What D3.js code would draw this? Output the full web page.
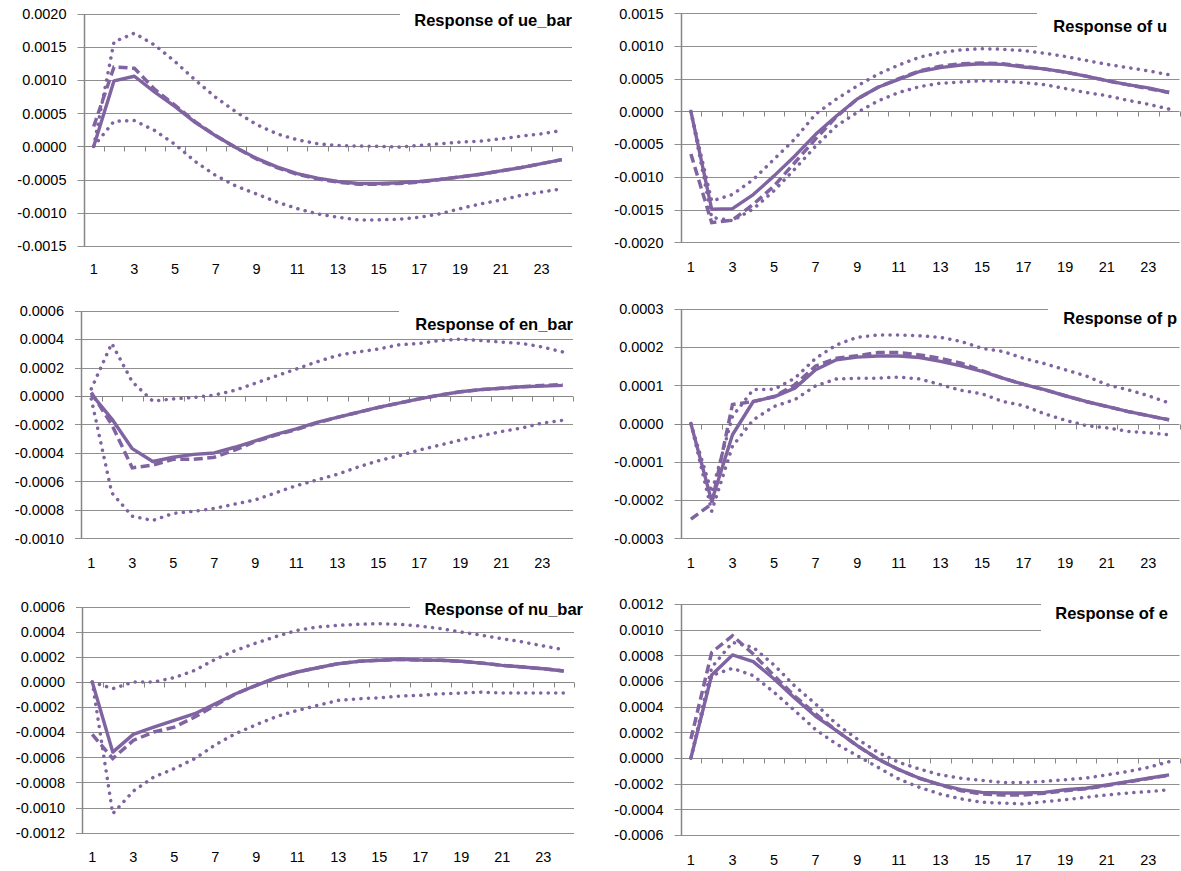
<!DOCTYPE html>
<html>
<head>
<meta charset="utf-8">
<script src="https://cdn.jsdelivr.net/npm/d3@7/dist/d3.min.js"></script>
<style>
  body { margin: 0; background: #fff; }
  text { font-family: "Liberation Sans", Arial, sans-serif; fill: #000; }
</style>
</head>
<body>
<svg id="chart" width="1181" height="871"></svg>
<script>
// horizon periods
const periods = [1,2,3,4,5,6,7,8,9,10,11,12,13,14,15,16,17,18,19,20,21,22,23,24];
const xTickLabels = [1,3,5,7,9,11,13,15,17,19,21,23];

// Response of ue_bar
const ueBarTicks = [-0.0015, -0.0010, -0.0005, 0, 0.0005, 0.0010, 0.0015, 0.0020];
const ueBarSolid  = [0, 9.9e-4, 10.6e-4, 8.2e-4, 6.0e-4, 3.6e-4, 1.6e-4, -0.2e-4, -1.8e-4, -3.1e-4, -4.1e-4, -4.8e-4, -5.3e-4, -5.6e-4, -5.6e-4, -5.5e-4, -5.3e-4, -5.0e-4, -4.6e-4, -4.2e-4, -3.7e-4, -3.2e-4, -2.6e-4, -2.0e-4];
const ueBarDashed = [3.0e-4, 12.0e-4, 11.8e-4, 8.6e-4, 6.2e-4, 3.7e-4, 1.6e-4, -0.2e-4, -1.9e-4, -3.2e-4, -4.2e-4, -4.9e-4, -5.4e-4, -5.7e-4, -5.7e-4, -5.6e-4, -5.4e-4, -5.0e-4, -4.6e-4, -4.2e-4, -3.7e-4, -3.2e-4, -2.6e-4, -2.0e-4];
const ueBarUpper  = [0, 15.8e-4, 17.1e-4, 15.3e-4, 12.8e-4, 10.0e-4, 7.4e-4, 5.2e-4, 3.3e-4, 1.9e-4, 1.0e-4, 0.4e-4, 0.15e-4, 0.05e-4, 0, -0.1e-4, 0.15e-4, 0.4e-4, 0.65e-4, 0.8e-4, 1.15e-4, 1.55e-4, 1.9e-4, 2.4e-4];
const ueBarLower  = [0, 3.8e-4, 3.9e-4, 2.4e-4, 0.3e-4, -2.3e-4, -4.4e-4, -6.0e-4, -7.2e-4, -8.4e-4, -9.4e-4, -10.2e-4, -10.7e-4, -11.1e-4, -11.1e-4, -11.0e-4, -10.7e-4, -10.2e-4, -9.4e-4, -8.7e-4, -8.1e-4, -7.4e-4, -6.9e-4, -6.4e-4];

// Response of u
const uTicks = [-0.0020, -0.0015, -0.0010, -0.0005, 0, 0.0005, 0.0010, 0.0015];
const uSolid  = [0, -14.95e-4, -14.85e-4, -12.7e-4, -9.85e-4, -6.8e-4, -3.5e-4, -0.7e-4, 1.9e-4, 3.7e-4, 4.9e-4, 6.1e-4, 6.7e-4, 7.1e-4, 7.3e-4, 7.2e-4, 6.8e-4, 6.5e-4, 6.0e-4, 5.4e-4, 4.7e-4, 4.1e-4, 3.6e-4, 2.9e-4];
const uDashed = [-6.5e-4, -17.0e-4, -16.6e-4, -14.2e-4, -11.4e-4, -7.8e-4, -4.2e-4, -0.8e-4, 1.9e-4, 3.7e-4, 5.0e-4, 6.2e-4, 6.9e-4, 7.3e-4, 7.4e-4, 7.3e-4, 6.9e-4, 6.5e-4, 6.0e-4, 5.4e-4, 4.7e-4, 4.1e-4, 3.5e-4, 2.9e-4];
const uUpper  = [0, -13.7e-4, -12.7e-4, -10.4e-4, -7.3e-4, -4.2e-4, -0.4e-4, 1.9e-4, 3.9e-4, 5.7e-4, 7.1e-4, 8.3e-4, 9.0e-4, 9.4e-4, 9.6e-4, 9.5e-4, 9.3e-4, 8.9e-4, 8.4e-4, 7.8e-4, 7.2e-4, 6.7e-4, 6.2e-4, 5.6e-4];
const uLower  = [0, -16.2e-4, -16.7e-4, -14.9e-4, -12.1e-4, -8.8e-4, -5.3e-4, -2.2e-4, -0.15e-4, 1.6e-4, 2.9e-4, 3.8e-4, 4.3e-4, 4.5e-4, 4.7e-4, 4.6e-4, 4.4e-4, 4.1e-4, 3.5e-4, 2.9e-4, 2.4e-4, 1.7e-4, 1.1e-4, 0.35e-4];

// Response of en_bar
const enBarTicks = [-0.0010, -0.0008, -0.0006, -0.0004, -0.0002, 0, 0.0002, 0.0004, 0.0006];
const enBarSolid  = [0.15e-4, -1.6e-4, -3.7e-4, -4.6e-4, -4.3e-4, -4.1e-4, -4.0e-4, -3.6e-4, -3.15e-4, -2.7e-4, -2.3e-4, -1.85e-4, -1.5e-4, -1.15e-4, -0.8e-4, -0.5e-4, -0.2e-4, 0.07e-4, 0.3e-4, 0.45e-4, 0.55e-4, 0.65e-4, 0.7e-4, 0.75e-4];
const enBarDashed = [0.25e-4, -2.0e-4, -5.05e-4, -4.85e-4, -4.45e-4, -4.45e-4, -4.3e-4, -3.8e-4, -3.2e-4, -2.75e-4, -2.35e-4, -1.9e-4, -1.5e-4, -1.15e-4, -0.8e-4, -0.5e-4, -0.2e-4, 0.07e-4, 0.3e-4, 0.45e-4, 0.55e-4, 0.65e-4, 0.75e-4, 0.8e-4];
const enBarUpper  = [0.5e-4, 3.7e-4, 1.0e-4, -0.35e-4, -0.2e-4, -0.1e-4, 0.07e-4, 0.4e-4, 0.9e-4, 1.4e-4, 1.9e-4, 2.4e-4, 2.85e-4, 3.1e-4, 3.3e-4, 3.6e-4, 3.7e-4, 3.9e-4, 4.0e-4, 3.9e-4, 3.8e-4, 3.7e-4, 3.45e-4, 3.1e-4];
const enBarLower  = [-0.2e-4, -6.8e-4, -8.45e-4, -8.75e-4, -8.25e-4, -8.1e-4, -7.9e-4, -7.6e-4, -7.3e-4, -6.8e-4, -6.3e-4, -5.9e-4, -5.5e-4, -5.0e-4, -4.55e-4, -4.2e-4, -3.8e-4, -3.45e-4, -3.1e-4, -2.8e-4, -2.5e-4, -2.25e-4, -1.9e-4, -1.7e-4];

// Response of p
const pTicks = [-0.0003, -0.0002, -0.0001, 0, 0.0001, 0.0002, 0.0003];
const pSolid  = [0, -2.03e-4, -0.29e-4, 0.58e-4, 0.70e-4, 0.93e-4, 1.41e-4, 1.67e-4, 1.74e-4, 1.77e-4, 1.77e-4, 1.73e-4, 1.63e-4, 1.51e-4, 1.37e-4, 1.19e-4, 1.03e-4, 0.89e-4, 0.73e-4, 0.58e-4, 0.45e-4, 0.32e-4, 0.21e-4, 0.10e-4];
const pDashed = [-2.5e-4, -2.1e-4, 0.5e-4, 0.58e-4, 0.71e-4, 1.02e-4, 1.51e-4, 1.71e-4, 1.78e-4, 1.86e-4, 1.86e-4, 1.80e-4, 1.71e-4, 1.58e-4, 1.39e-4, 1.19e-4, 1.03e-4, 0.89e-4, 0.73e-4, 0.58e-4, 0.45e-4, 0.32e-4, 0.21e-4, 0.10e-4];
const pUpper  = [0, -1.8e-4, 0.19e-4, 0.89e-4, 0.9e-4, 1.19e-4, 1.71e-4, 2.06e-4, 2.26e-4, 2.32e-4, 2.32e-4, 2.3e-4, 2.26e-4, 2.15e-4, 1.97e-4, 1.89e-4, 1.71e-4, 1.57e-4, 1.41e-4, 1.25e-4, 1.02e-4, 0.89e-4, 0.73e-4, 0.54e-4];
const pLower  = [0, -2.29e-4, -0.59e-4, 0.10e-4, 0.45e-4, 0.63e-4, 0.99e-4, 1.17e-4, 1.19e-4, 1.19e-4, 1.22e-4, 1.17e-4, 1.02e-4, 0.87e-4, 0.78e-4, 0.58e-4, 0.47e-4, 0.26e-4, 0.09e-4, -0.05e-4, -0.11e-4, -0.2e-4, -0.24e-4, -0.29e-4];

// Response of nu_bar
const nuBarTicks = [-0.0012, -0.0010, -0.0008, -0.0006, -0.0004, -0.0002, 0, 0.0002, 0.0004, 0.0006];
const nuBarSolid  = [0, -5.58e-4, -4.17e-4, -3.59e-4, -3.05e-4, -2.52e-4, -1.73e-4, -0.93e-4, -0.27e-4, 0.35e-4, 0.8e-4, 1.14e-4, 1.46e-4, 1.65e-4, 1.73e-4, 1.81e-4, 1.75e-4, 1.73e-4, 1.65e-4, 1.51e-4, 1.33e-4, 1.2e-4, 1.06e-4, 0.88e-4];
const nuBarDashed = [-4.17e-4, -6.1e-4, -4.65e-4, -3.98e-4, -3.59e-4, -2.79e-4, -1.86e-4, -0.93e-4, -0.27e-4, 0.35e-4, 0.8e-4, 1.14e-4, 1.46e-4, 1.65e-4, 1.73e-4, 1.81e-4, 1.75e-4, 1.73e-4, 1.65e-4, 1.51e-4, 1.33e-4, 1.2e-4, 1.06e-4, 0.88e-4];
const nuBarUpper  = [0, -0.53e-4, 0, 0, 0.35e-4, 0.93e-4, 1.81e-4, 2.52e-4, 3.11e-4, 3.64e-4, 4.12e-4, 4.38e-4, 4.52e-4, 4.6e-4, 4.65e-4, 4.6e-4, 4.46e-4, 4.25e-4, 3.98e-4, 3.72e-4, 3.45e-4, 3.19e-4, 2.87e-4, 2.58e-4];
const nuBarLower  = [0, -10.49e-4, -8.69e-4, -7.57e-4, -6.9e-4, -6.1e-4, -5.0e-4, -4.1e-4, -3.4e-4, -2.74e-4, -2.26e-4, -1.86e-4, -1.46e-4, -1.33e-4, -1.25e-4, -1.12e-4, -1.06e-4, -0.93e-4, -0.88e-4, -0.8e-4, -0.88e-4, -0.88e-4, -0.88e-4, -0.88e-4];

// Response of e
const eTicks = [-0.0006, -0.0004, -0.0002, 0, 0.0002, 0.0004, 0.0006, 0.0008, 0.0010, 0.0012];
const eSolid  = [0, 6.47e-4, 8.03e-4, 7.51e-4, 6.16e-4, 4.65e-4, 3.25e-4, 2.13e-4, 0.96e-4, -0.08e-4, -0.91e-4, -1.58e-4, -2.08e-4, -2.47e-4, -2.68e-4, -2.73e-4, -2.73e-4, -2.68e-4, -2.47e-4, -2.36e-4, -2.1e-4, -1.84e-4, -1.58e-4, -1.32e-4];
const eDashed = [1.48e-4, 8.23e-4, 9.53e-4, 8.1e-4, 6.42e-4, 4.81e-4, 3.43e-4, 2.13e-4, 0.96e-4, -0.08e-4, -0.91e-4, -1.58e-4, -2.1e-4, -2.55e-4, -2.8e-4, -2.88e-4, -2.88e-4, -2.75e-4, -2.55e-4, -2.4e-4, -2.15e-4, -1.88e-4, -1.6e-4, -1.35e-4];
const eUpper  = [0, 7.06e-4, 9.01e-4, 8.62e-4, 7.25e-4, 5.6e-4, 4.21e-4, 2.65e-4, 1.48e-4, 0.44e-4, -0.34e-4, -0.86e-4, -1.32e-4, -1.58e-4, -1.74e-4, -1.9e-4, -1.9e-4, -1.82e-4, -1.69e-4, -1.56e-4, -1.32e-4, -1.06e-4, -0.73e-4, -0.29e-4];
const eLower  = [0, 6.42e-4, 6.99e-4, 6.42e-4, 5.12e-4, 3.69e-4, 2.21e-4, 1.09e-4, 0.18e-4, -0.73e-4, -1.64e-4, -2.29e-4, -2.81e-4, -3.19e-4, -3.45e-4, -3.51e-4, -3.58e-4, -3.4e-4, -3.25e-4, -3.06e-4, -2.88e-4, -2.73e-4, -2.62e-4, -2.47e-4];

// layout of the six small charts (pixel boxes); the title box hides part of the top gridlines
const panels = [
  {title: "Response of ue_bar", ticks: ueBarTicks, solid: ueBarSolid, dashed: ueBarDashed, upper: ueBarUpper, lower: ueBarLower,
   left: 83.5, right: 572, top: 14, bottom: 245.7, labelY: 269, titleY: 20.5, titleX: 572, box: [400, 2, 40]},
  {title: "Response of u", ticks: uTicks, solid: uSolid, dashed: uDashed, upper: uUpper, lower: uLower,
   left: 680.5, right: 1179.5, top: 13.3, bottom: 242.3, labelY: 267, titleY: 26.5, titleX: 1167, box: [1037, 5, 49]},
  {title: "Response of en_bar", ticks: enBarTicks, solid: enBarSolid, dashed: enBarDashed, upper: enBarUpper, lower: enBarLower,
   left: 81, right: 573, top: 310.7, bottom: 538.3, labelY: 562.7, titleY: 324, titleX: 573, box: [399, 302, 336]},
  {title: "Response of p", ticks: pTicks, solid: pSolid, dashed: pDashed, upper: pUpper, lower: pLower,
   left: 680.5, right: 1179.5, top: 309, bottom: 538.3, labelY: 562.7, titleY: 318, titleX: 1177, box: [1048, 300, 338]},
  {title: "Response of nu_bar", ticks: nuBarTicks, solid: nuBarSolid, dashed: nuBarDashed, upper: nuBarUpper, lower: nuBarLower,
   left: 82, right: 574, top: 606.7, bottom: 832.7, labelY: 856.7, titleY: 609, titleX: 583, box: [410, 596, 626]},
  {title: "Response of e", ticks: eTicks, solid: eSolid, dashed: eDashed, upper: eUpper, lower: eLower,
   left: 680.5, right: 1179.5, top: 604, bottom: 835, labelY: 859.3, titleY: 613.5, titleX: 1168, box: [1041, 598, 633]}
];

const purple = "#8064A2";
const gridColor = "#8f8f8f";
const axisColor = "#868686";
const svg = d3.select("#chart");

let fmt = function(v) {
  return (v < 0 ? "-" : "") + Math.abs(v).toFixed(4);
};

let crisp = function(v) { return Math.round(v) + 0.5; };

panels.forEach(function(p) {
  let g = svg.append("g");

  let x = d3.scaleBand().domain(periods).range([p.left, p.right]);
  let y = d3.scaleLinear().domain(d3.extent(p.ticks)).range([p.bottom, p.top]);
  let cx = function(k) { return x(k) + x.bandwidth() / 2; };

  // horizontal gridlines (they also make the outside ticks of the y axis)
  g.selectAll(".grid")
    .data(p.ticks)
    .enter()
      .append("line")
      .attr("x1", p.left - 6)
      .attr("x2", p.right)
      .attr("y1", function(d) { return crisp(y(d)); })
      .attr("y2", function(d) { return crisp(y(d)); })
      .attr("stroke", function(d) { return d === 0 ? axisColor : gridColor; })
      .attr("stroke-width", 1);

  // y axis line
  g.append("line")
    .attr("x1", crisp(p.left)).attr("x2", crisp(p.left))
    .attr("y1", crisp(y(p.ticks[p.ticks.length - 1])))
    .attr("y2", crisp(y(p.ticks[0])))
    .attr("stroke", axisColor)
    .attr("stroke-width", 1.5);

  // x axis at zero with ticks between categories
  let boundaries = periods.map(function(k) { return x(k); }).concat([p.right]);
  g.selectAll(".xtick")
    .data(boundaries)
    .enter()
      .append("line")
      .attr("x1", function(d) { return crisp(d); })
      .attr("x2", function(d) { return crisp(d); })
      .attr("y1", crisp(y(0)))
      .attr("y2", crisp(y(0)) + 5)
      .attr("stroke", axisColor)
      .attr("stroke-width", 1);

  // y labels
  g.selectAll(".ylab")
    .data(p.ticks)
    .enter()
      .append("text")
      .attr("x", p.left - 17)
      .attr("y", function(d) { return y(d); })
      .attr("dy", "0.36em")
      .attr("text-anchor", "end")
      .style("font-size", "14.5px")
      .text(fmt);

  // x labels along the bottom
  g.selectAll(".xlab")
    .data(xTickLabels)
    .enter()
      .append("text")
      .attr("x", function(d) { return cx(d); })
      .attr("y", p.labelY)
      .attr("dy", "0.36em")
      .attr("text-anchor", "middle")
      .style("font-size", "14.5px")
      .text(function(d) { return d; });

  // title box
  g.append("rect")
    .attr("x", p.box[0])
    .attr("y", p.box[1])
    .attr("width", 1181 - p.box[0])
    .attr("height", p.box[2] - p.box[1])
    .attr("fill", "#fff");

  g.append("text")
    .attr("x", p.titleX)
    .attr("y", p.titleY)
    .attr("dy", "0.36em")
    .attr("text-anchor", "end")
    .style("font-size", "16.5px")
    .style("font-weight", "bold")
    .text(p.title);

  let line = d3.line()
    .x(function(d, i) { return cx(periods[i]); })
    .y(function(d) { return y(d); });

  [p.upper, p.lower].forEach(function(s) {
    g.append("path")
      .attr("d", line(s))
      .attr("fill", "none")
      .attr("stroke", purple)
      .attr("stroke-width", 3.5)
      .attr("stroke-linecap", "round")
      .attr("stroke-dasharray", "0.1,7.4");
  });

  g.append("path")
    .attr("d", line(p.dashed))
    .attr("fill", "none")
    .attr("stroke", purple)
    .attr("stroke-width", 3.5)
    .attr("stroke-dasharray", "9,4.5");

  g.append("path")
    .attr("d", line(p.solid))
    .attr("fill", "none")
    .attr("stroke", purple)
    .attr("stroke-width", 3.4)
    .attr("stroke-linejoin", "round");
});
</script>
</body>
</html>
